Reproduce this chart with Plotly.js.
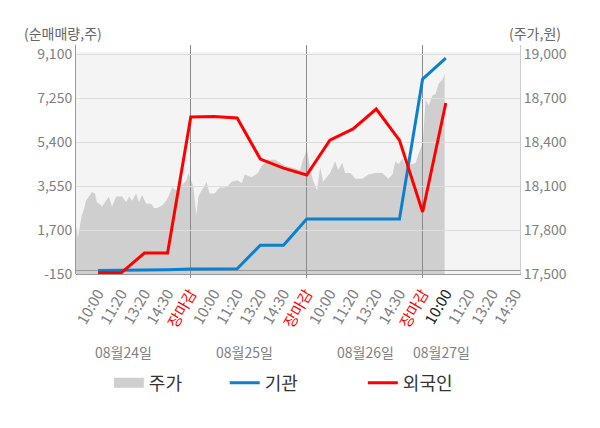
<!DOCTYPE html>
<html>
<head>
<meta charset="utf-8">
<script src="https://cdn.plot.ly/plotly-3.0.1.min.js"></script>
<style>
  html, body { margin: 0; padding: 0; background: #fff; }
  #chart { width: 600px; height: 428px; }
</style>
</head>
<body>
<div id="chart"></div>
<script>
/* ─── Data ─── */

// x positions are in "slot" units: each trading day = 5 slots, 장마감 closes a day
const slotLabels = [
  '10:00', '11:20', '13:20', '14:30', '장마감',
  '10:00', '11:20', '13:20', '14:30', '장마감',
  '10:00', '11:20', '13:20', '14:30', '장마감',
  '10:00', '11:20', '13:20', '14:30',
];
const dayLabels = ['08월24일', '08월25일', '08월26일', '08월27일'];
const dayLabelPos = [2.12, 7.33, 12.53, 15.82];

// net buying (주) sampled at each slot
const flowSlots = [1, 2, 3, 4, 5, 6, 7, 8, 9, 10, 11, 12, 13, 14, 15, 16];
const institution = [0, 0, 10, 30, 60, 60, 70, 1060, 1060, 2160, 2160, 2160, 2160, 2160, 8060, 8940];
const foreign = [-100, -100, 730, 730, 6460, 6480, 6420, 4690, 4310, 4020, 5490, 5960, 6800, 5490, 2460, 7050];

// intraday share price (원)
const priceSlots = [
  0, 0.13, 0.30, 0.39, 0.48, 0.61, 0.74, 0.87, 0.95, 1.13, 1.17, 1.34, 1.47, 1.60, 1.78, 1.91,
  2.04, 2.21, 2.34, 2.47, 2.64, 2.77, 2.90, 3.08, 3.29, 3.42, 3.55, 3.77, 3.94, 4.07, 4.20, 4.38,
  4.51, 4.64, 4.81, 4.90, 5.03, 5.11, 5.24, 5.33, 5.46, 5.59, 5.68, 5.81, 6.03, 6.24, 6.46, 6.59,
  6.76, 7.02, 7.20, 7.33, 7.63, 7.89, 8.06, 8.32, 8.63, 8.84, 9.06, 9.28, 9.49, 9.71, 9.84, 10.01,
  10.14, 10.27, 10.45, 10.58, 10.71, 10.88, 11.01, 11.23, 11.36, 11.53, 11.66, 11.88, 12.10, 12.40, 12.66, 12.96,
  13.26, 13.52, 13.70, 13.83, 13.96, 14.13, 14.26, 14.39, 14.57, 14.70, 14.82, 15.00, 15.13, 15.26, 15.43, 15.56,
  15.69, 15.87, 15.95,
];
const price = [
  17880, 17750, 17900, 17940, 18000, 18030, 18060, 18050, 17990, 17970, 17960, 18000, 18030, 17960, 18030, 18030,
  18030, 17990, 18030, 18000, 18050, 17990, 18040, 17980, 17980, 17950, 17950, 17970, 18000, 18040, 18090, 18070,
  18100, 18110, 18140, 18190, 18130, 18100, 17900, 18030, 18070, 18100, 18130, 18050, 18050, 18090, 18090, 18100,
  18130, 18140, 18120, 18180, 18160, 18190, 18240, 18280, 18280, 18260, 18240, 18230, 18220, 18210, 18280, 18350,
  18230, 18140, 18070, 18230, 18130, 18160, 18190, 18270, 18210, 18260, 18190, 18190, 18150, 18150, 18180, 18190,
  18190, 18150, 18180, 18270, 18250, 18290, 18240, 18250, 18250, 18260, 18320, 18390, 18690, 18650, 18720, 18730,
  18800, 18830, 18870,
];

const leftTicks = [-150, 1700, 3550, 5400, 7250, 9100];
const rightTicks = [17500, 17800, 18100, 18400, 18700, 19000];

/* ─── Styles ─── */
const FONT = '"Noto Sans CJK KR","Noto Sans",sans-serif';
const GREY = '#808080';
const PRICE_FILL = '#cfcfcf';
const X_RANGE = [0.05, 19.2];
const fmt = v => v.toLocaleString('en-US');

const tickText = slotLabels.map((t, i) => {
  if (t === '장마감') return '<span style="color:#ff0000">' + t + '</span>';
  if (i === 15) return '<span style="color:#222222">' + t + '</span>';
  return t;
});

const legendBase = {
  orientation: 'h', xanchor: 'left', y: -0.476, yanchor: 'middle',
  font: { size: 18, color: '#333333' },
  bgcolor: 'rgba(0,0,0,0)',
};

const traces = [
  {
    x: priceSlots, y: price,
    xaxis: 'x', yaxis: 'y',
    mode: 'lines',
    line: { width: 0, color: PRICE_FILL },
    fill: 'tozeroy',
    fillcolor: PRICE_FILL,
    showlegend: false,
    hoverinfo: 'skip',
  },
  // legend-only entry (a single point draws no line) so the key shows a solid grey block
  {
    x: priceSlots.slice(0, 1), y: price.slice(0, 1),
    xaxis: 'x', yaxis: 'y',
    mode: 'lines',
    line: { width: 14, color: PRICE_FILL },
    name: '주가',
    legend: 'legend',
    hoverinfo: 'skip',
  },
  {
    x: flowSlots, y: institution,
    xaxis: 'x2', yaxis: 'y2',
    mode: 'lines',
    line: { color: '#0a80cf', width: 3 },
    name: '기관',
    legend: 'legend2',
  },
  {
    x: flowSlots, y: foreign,
    xaxis: 'x2', yaxis: 'y2',
    mode: 'lines',
    line: { color: '#ff0000', width: 3 },
    name: '외국인',
    legend: 'legend3',
  },
];

const layout = {
  width: 600, height: 428,
  paper_bgcolor: '#ffffff',
  plot_bgcolor: 'rgba(0,0,0,0)',
  font: { family: FONT, color: GREY, size: 14 },
  margin: { l: 76, r: 80, t: 45, b: 154 },
  showlegend: true,
  legend: { ...legendBase, x: 0.074 },
  legend2: { ...legendBase, x: 0.335 },
  legend3: { ...legendBase, x: 0.646 },
  // price subplot (drawn first, below)
  xaxis: {
    range: X_RANGE,
    tickmode: 'array', tickvals: slotLabels.map((_, i) => i + 1), ticktext: tickText,
    tickangle: -60,
    ticklabelstandoff: 4,
    tickfont: { size: 15, color: GREY },
    showgrid: false, zeroline: false,
    showline: true, linecolor: '#999999',
    ticks: '',
  },
  yaxis: {
    side: 'right',
    range: [17500, 19064],
    tickmode: 'array', tickvals: rightTicks, ticktext: rightTicks.map(fmt),
    showgrid: false, zeroline: false,
    showline: true, linecolor: '#cccccc',
    tickfont: { size: 14, color: GREY },
    ticks: '',
  },
  // net-buying subplot (drawn on top: gridlines + zero line over the price fill)
  xaxis2: {
    anchor: 'y2',
    range: X_RANGE,
    tickmode: 'array', tickvals: [5, 10, 15],
    showticklabels: false,
    showgrid: true, gridcolor: '#8c8c8c', gridwidth: 1,
    ticks: 'outside', ticklen: 3, tickcolor: '#8c8c8c',
    zeroline: false, showline: false,
  },
  yaxis2: {
    anchor: 'x2',
    side: 'left',
    range: [-152, 9496],
    tickmode: 'array', tickvals: leftTicks, ticktext: leftTicks.map(fmt),
    showgrid: true, gridcolor: '#dddddd',
    zeroline: true, zerolinecolor: '#999999', zerolinewidth: 1,
    showline: true, linecolor: '#999999',
    tickfont: { size: 14, color: GREY },
    ticks: '',
  },
  shapes: [
    {
      type: 'rect', layer: 'below',
      xref: 'paper', yref: 'paper', x0: 0, x1: 1, y0: 0, y1: 0.971,
      fillcolor: '#f4f4f4', line: { width: 0 },
    },
  ],
  annotations: [
    {
      text: '(순매매량,주)', xref: 'paper', yref: 'paper', x: -0.122, y: 1.052,
      xanchor: 'left', yanchor: 'middle', showarrow: false, font: { size: 14, color: '#666666' },
    },
    {
      text: '(주가,원)', xref: 'paper', yref: 'paper', x: 1.097, y: 1.052,
      xanchor: 'right', yanchor: 'middle', showarrow: false, font: { size: 14, color: '#666666' },
    },
    ...dayLabels.map((d, i) => ({
      text: d, xref: 'x', yref: 'paper', x: dayLabelPos[i], y: -0.341,
      xanchor: 'center', yanchor: 'middle', showarrow: false, font: { size: 14, color: GREY },
    })),
  ],
};

Plotly.newPlot('chart', traces, layout, { displayModeBar: false, staticPlot: true });
</script>
</body>
</html>
